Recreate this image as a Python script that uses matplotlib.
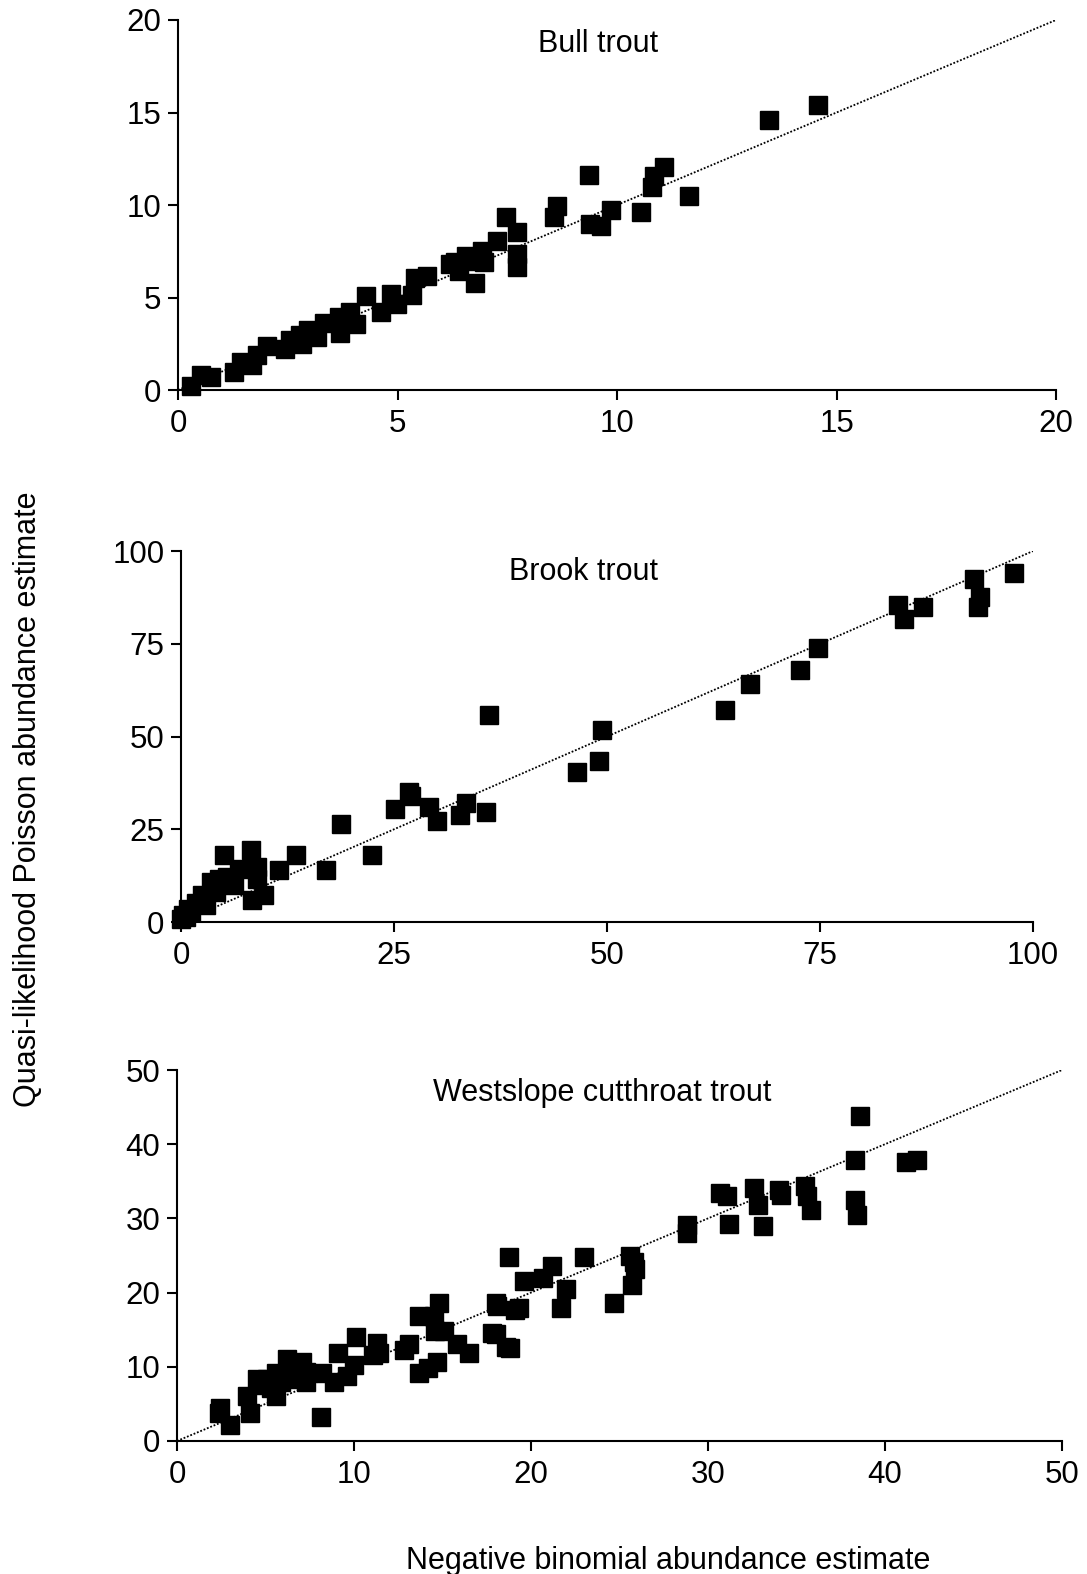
import matplotlib
matplotlib.use("Agg")
import matplotlib.pyplot as plt

plt.rcParams['font.family'] = ['Liberation Sans', 'DejaVu Sans']

# Bull trout (negative binomial x, quasi-likelihood Poisson y)
bull_x = [0.3, 0.53, 0.76, 1.27, 1.44, 1.69, 1.8, 2.03, 2.43, 2.56, 2.78, 2.83, 2.96, 3.16,
          3.32, 3.67, 3.69, 3.92, 4.06, 4.28, 4.63, 4.84, 4.99, 5.34, 5.4, 5.68, 6.2, 6.3,
          6.41, 6.56, 6.77, 6.8, 6.92, 6.97, 7.27, 7.47, 7.71, 7.71, 7.71, 8.56, 8.64, 9.37,
          9.38, 9.63, 9.86, 10.55, 10.79, 10.85, 11.07, 11.64, 13.46, 14.57]
bull_y = [0.22, 0.81, 0.72, 0.99, 1.53, 1.35, 1.89, 2.39, 2.24, 2.69, 2.96, 2.51, 3.23, 2.87,
          3.63, 3.95, 3.09, 4.22, 3.59, 5.06, 4.22, 5.21, 4.67, 5.12, 6.07, 6.14, 6.82, 6.9,
          6.46, 7.27, 5.78, 7.0, 7.54, 6.91, 8.08, 9.34, 8.53, 7.36, 6.64, 9.34, 9.96, 11.6,
          8.98, 8.85, 9.73, 9.64, 10.95, 11.58, 12.08, 10.48, 14.6, 15.4]

# Brook trout
brook_x = [0.0, 0.2, 0.6, 0.8, 1.2, 1.8, 2.5, 2.9, 3.5, 4.1, 4.5, 5.1, 5.4, 6.2, 6.8, 8.2,
           8.3, 8.9, 8.9, 9.8, 11.5, 13.5, 17.0, 18.8, 22.4, 25.1, 26.8, 27.0, 29.1, 30.1,
           32.8, 33.5, 36.2, 35.8, 46.5, 49.1, 49.4, 63.8, 66.8, 72.7, 74.8, 84.2, 84.9,
           87.1, 93.1, 93.5, 93.8, 97.8]
brook_y = [0.7, 1.8, 1.4, 3.6, 2.7, 5.2, 7.2, 4.5, 10.8, 8.1, 11.7, 18.0, 12.2, 9.9, 14.2,
           19.4, 6.0, 14.9, 11.7, 7.2, 14.1, 18.2, 14.1, 26.4, 18.2, 30.5, 35.1, 34.1, 31.1,
           27.2, 28.8, 32.0, 55.9, 29.6, 40.5, 43.4, 51.9, 57.2, 64.2, 67.9, 73.9, 85.4, 81.7,
           84.9, 92.5, 84.9, 87.6, 94.1]

# Westslope cutthroat trout
wct_x = [2.35, 2.45, 2.98, 3.95, 4.1, 4.5, 4.7, 5.1, 5.3, 5.6, 5.6, 5.9, 6.2, 6.3, 6.6, 7.06,
         7.3, 7.3, 8.15, 8.2, 8.9, 9.1, 9.6, 10.0, 10.1, 11.1, 11.3, 11.4, 12.8, 13.1, 13.7,
         13.7, 14.2, 14.5, 14.6, 14.7, 14.8, 15.1, 15.8, 16.5, 17.8, 18.0, 18.0, 18.1, 18.6,
         18.78, 18.8, 19.1, 19.3, 19.6, 20.7, 21.2, 21.7, 22.0, 23.0, 24.7, 25.6, 25.8, 25.9,
         25.7, 28.8, 28.8, 30.7, 31.1, 31.2, 32.6, 32.8, 33.1, 34.0, 34.1, 35.5, 35.6, 35.8,
         38.3, 38.3, 38.4, 38.6, 41.2, 41.8]
wct_y = [3.8, 4.4, 2.2, 6.0, 3.8, 8.4, 7.6, 8.4, 7.1, 9.1, 6.0, 8.0, 11.1, 8.4, 9.8, 10.7,
         9.3, 8.0, 3.3, 9.1, 8.0, 11.8, 8.7, 10.2, 14.0, 11.6, 13.2, 11.8, 12.2, 13.1, 16.8,
         9.1, 9.9, 16.8, 14.8, 10.7, 18.6, 14.8, 13.1, 11.8, 14.6, 18.6, 14.4, 18.2, 12.7,
         24.8, 12.5, 17.7, 17.9, 21.6, 22.0, 23.6, 17.9, 20.5, 24.8, 18.6, 24.9, 24.1, 23.2,
         21.0, 29.1, 28.0, 33.4, 33.0, 29.2, 34.1, 31.8, 29.0, 33.8, 33.2, 34.4, 33.0, 31.1,
         37.9, 32.5, 30.5, 43.8, 37.6, 37.9]

# data, title, axis max, ticks, axes rect, title position (axes fraction)
panels = [
    (bull_x, bull_y, "Bull trout", 20, [0, 5, 10, 15, 20],
     [0.1638, 0.7522, 0.8077, 0.2351], (0.478, 0.935)),
    (brook_x, brook_y, "Brook trout", 100, [0, 25, 50, 75, 100],
     [0.1665, 0.4142, 0.7838, 0.2357], (0.472, 0.943)),
    (wct_x, wct_y, "Westslope cutthroat trout", 50, [0, 10, 20, 30, 40, 50],
     [0.1628, 0.0845, 0.8142, 0.2357], (0.481, 0.938)),
]

fig = plt.figure(figsize=(10.87, 15.74), dpi=100)

for xs, ys, name, lim, ticks, rect, tpos in panels:
    ax = fig.add_axes(rect)
    ax.plot([0, lim], [0, lim], linestyle=(0, (1, 1)), color="black", lw=1.3, zorder=1)
    ax.plot(xs, ys, linestyle="none", marker="s", markersize=13, color="black",
            clip_on=False, zorder=2)
    ax.set_xlim(0, lim)
    ax.set_ylim(0, lim)
    ax.set_xticks(ticks)
    ax.set_yticks(ticks)
    ax.spines["top"].set_visible(False)
    ax.spines["right"].set_visible(False)
    for s in ("left", "bottom"):
        ax.spines[s].set_linewidth(1.5)
    ax.tick_params(axis="both", direction="out", length=7, width=1.5, labelsize=22.5)
    ax.tick_params(axis="x", pad=7)
    ax.tick_params(axis="y", pad=5)
    ax.text(tpos[0], tpos[1], name, transform=ax.transAxes, ha="center", va="center",
            fontsize=22)

fig.text(0.026, 0.492, "Quasi-likelihood Poisson abundance estimate", rotation=90,
         ha="center", va="center", fontsize=22)
fig.text(0.615, 0.008, "Negative binomial abundance estimate", ha="center", va="center",
         fontsize=22)

fig.savefig("out.png", dpi=100)
